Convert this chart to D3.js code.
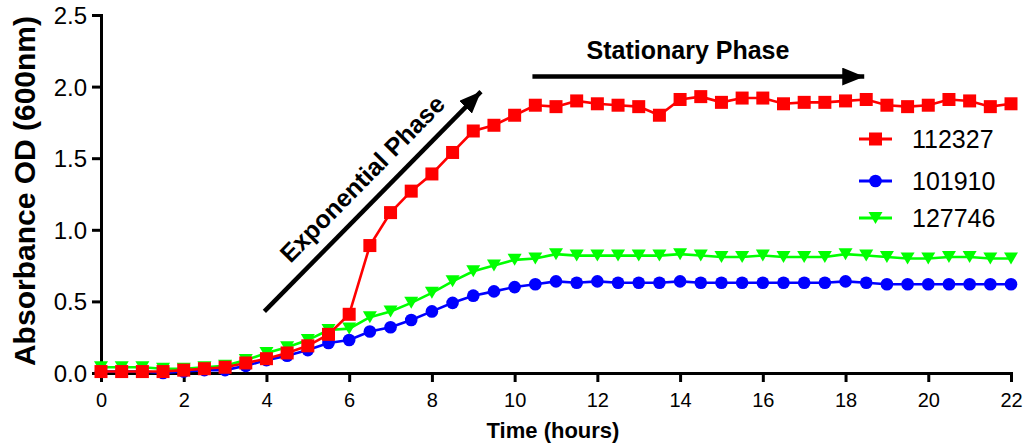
<!DOCTYPE html>
<html>
<head>
<meta charset="utf-8">
<script src="https://cdn.jsdelivr.net/npm/d3@7"></script>
<style>
  body { margin: 0; background: #fff; }
  svg { display: block; font-family: Arial, "Liberation Sans", sans-serif; }
</style>
</head>
<body>
<div id="root"></div>
<script>
// sampling times (hours), every half hour
const hours = d3.range(0, 22.01, 0.5);

const seriesNames = ["112327", "101910", "127746"];

const od112327 = [
  0.01, 0.01, 0.01, 0.01, 0.02, 0.03, 0.04, 0.07, 0.10, 0.14, 0.19, 0.27, 0.41,
  0.89, 1.12, 1.27, 1.39, 1.54, 1.69, 1.73, 1.80,
  1.87, 1.86, 1.90, 1.88, 1.87, 1.86, 1.80, 1.91, 1.93, 1.89, 1.92, 1.92,
  1.88, 1.89, 1.89, 1.90, 1.91, 1.87, 1.86, 1.87, 1.91, 1.90, 1.86, 1.88,
];

const od101910 = [
  0.01, 0.01, 0.01, 0.00, 0.01, 0.02, 0.02, 0.05, 0.09, 0.12, 0.16, 0.21, 0.23,
  0.29, 0.32, 0.37, 0.43, 0.49, 0.54, 0.57, 0.60,
  0.62, 0.64, 0.63, 0.64, 0.63, 0.63, 0.63, 0.64, 0.63, 0.63, 0.63, 0.63,
  0.63, 0.63, 0.63, 0.64, 0.63, 0.62, 0.62, 0.62, 0.62, 0.62, 0.62, 0.62,
];

const od127746 = [
  0.04, 0.04, 0.04, 0.03, 0.03, 0.04, 0.05, 0.09, 0.14, 0.18, 0.23, 0.30, 0.31,
  0.39, 0.43, 0.49, 0.56, 0.64, 0.71, 0.75, 0.79,
  0.80, 0.83, 0.82, 0.82, 0.82, 0.82, 0.82, 0.83, 0.82, 0.81, 0.81, 0.82,
  0.81, 0.81, 0.81, 0.83, 0.82, 0.81, 0.80, 0.80, 0.81, 0.81, 0.80, 0.80,
];

const xTicks = [0, 2, 4, 6, 8, 10, 12, 14, 16, 18, 20, 22];
const yTicks = [0, 0.5, 1.0, 1.5, 2.0, 2.5];

// annotation arrows in data units: [hours, OD]
const expArrow = [[3.95, 0.43], [9.22, 1.975]];
const statArrow = [[10.43, 2.07], [18.5, 2.07]];

growthCurve(window.d3);

function growthCurve(d3) {
  const width = 1027;
  const height = 447;

  const svg = d3.select("#root").append("svg")
    .attr("width", width)
    .attr("height", height);

  const x = d3.scaleLinear().domain([0, 22]).range([101, 1011]);
  const y = d3.scaleLinear().domain([0, 2.5]).range([373, 15]);

  // axes
  const xAxis = svg.append("g")
    .attr("transform", `translate(0, ${y(0)})`)
    .call(d3.axisBottom(x).tickValues(xTicks).tickSize(9).tickSizeOuter(0).tickFormat(d3.format("d")));

  const yAxis = svg.append("g")
    .attr("transform", `translate(${x(0)}, 0)`)
    .call(d3.axisLeft(y).tickValues(yTicks).tickSize(9).tickSizeOuter(0).tickFormat(d3.format(".1f")));

  [xAxis, yAxis].forEach(ax => {
    ax.select(".domain").attr("stroke", "#000").attr("stroke-width", 3).attr("stroke-linecap", "square");
    ax.selectAll(".tick line").attr("stroke", "#000").attr("stroke-width", 3);
    ax.selectAll(".tick text").attr("fill", "#000").attr("font-family", "Arial, 'Liberation Sans', sans-serif");
  });

  xAxis.selectAll(".tick text")
    .attr("font-size", 20)
    .attr("y", 20)
    .attr("dy", "0.71em");

  yAxis.selectAll(".tick text")
    .attr("font-size", 24)
    .attr("x", -14)
    .attr("dy", "0.35em");

  // axis titles
  svg.append("text")
    .attr("x", 553)
    .attr("y", 438)
    .attr("text-anchor", "middle")
    .attr("font-size", 22)
    .attr("font-weight", "bold")
    .text("Time (hours)");

  svg.append("text")
    .attr("transform", "translate(35, 191) rotate(-90)")
    .attr("text-anchor", "middle")
    .attr("font-size", 30)
    .attr("font-weight", "bold")
    .text("Absorbance OD (600nm)");

  // series
  const series = [
    { name: seriesNames[1], values: od101910, color: "#0000ff", shape: "circle" },
    { name: seriesNames[2], values: od127746, color: "#00ff00", shape: "triangle" },
    { name: seriesNames[0], values: od112327, color: "#ff0000", shape: "square" },
  ];

  const line = d3.line()
    .x(d => x(d[0]))
    .y(d => y(d[1]));

  function drawMarker(g, shape, color) {
    if (shape === "square") {
      g.append("rect").attr("x", -6.5).attr("y", -6.5).attr("width", 13).attr("height", 13).attr("fill", color);
    } else if (shape === "circle") {
      g.append("circle").attr("r", 6.3).attr("fill", color);
    } else {
      g.append("path").attr("d", "M-7,-6L7,-6L0,6Z").attr("fill", color);
    }
  }

  series.forEach(s => {
    const pts = hours.map((h, i) => [h, s.values[i]]);
    const g = svg.append("g");
    g.append("path")
      .datum(pts)
      .attr("d", line)
      .attr("fill", "none")
      .attr("stroke", s.color)
      .attr("stroke-width", 2.6);

    g.selectAll("g.pt")
      .data(pts)
      .join("g")
      .attr("class", "pt")
      .attr("transform", d => `translate(${x(d[0])}, ${y(d[1])})`)
      .each(function () { drawMarker(d3.select(this), s.shape, s.color); });
  });

  // legend
  const legendOrder = [
    { name: seriesNames[0], color: "#ff0000", shape: "square", dy: 139 },
    { name: seriesNames[1], color: "#0000ff", shape: "circle", dy: 181 },
    { name: seriesNames[2], color: "#00ff00", shape: "triangle", dy: 218 },
  ];

  const legend = svg.append("g");
  legendOrder.forEach(item => {
    const row = legend.append("g").attr("transform", `translate(859, ${item.dy})`);
    row.append("line")
      .attr("x1", 0).attr("x2", 33)
      .attr("stroke", item.color)
      .attr("stroke-width", 3);
    drawMarker(row.append("g").attr("transform", "translate(16.5, 0)"), item.shape, item.color);
    row.append("text")
      .attr("x", 53)
      .attr("dy", "0.36em")
      .attr("font-size", 25)
      .text(item.name);
  });

  // annotation arrows
  svg.append("defs").append("marker")
    .attr("id", "head")
    .attr("viewBox", "0 0 22 18")
    .attr("refX", 22)
    .attr("refY", 9)
    .attr("markerUnits", "userSpaceOnUse")
    .attr("markerWidth", 22)
    .attr("markerHeight", 18)
    .attr("orient", "auto")
    .append("path")
    .attr("d", "M0,0L22,9L0,18Z")
    .attr("fill", "#000");

  [expArrow, statArrow].forEach(a => {
    const [p0, p1] = a.map(p => [x(p[0]), y(p[1])]);
    const len = Math.hypot(p1[0] - p0[0], p1[1] - p0[1]);
    const ux = (p1[0] - p0[0]) / len;
    const uy = (p1[1] - p0[1]) / len;
    svg.append("line")
      .attr("x1", p0[0]).attr("y1", p0[1])
      .attr("x2", p1[0] - ux * 2).attr("y2", p1[1] - uy * 2)
      .attr("stroke", "#000")
      .attr("stroke-width", 4.5)
      .attr("marker-end", "url(#head)");
  });

  // annotation labels
  const e0 = [x(expArrow[0][0]), y(expArrow[0][1])];
  const e1 = [x(expArrow[1][0]), y(expArrow[1][1])];
  const angle = Math.atan2(e1[1] - e0[1], e1[0] - e0[0]) * 180 / Math.PI;
  svg.append("text")
    .attr("transform", `translate(${(e0[0] + e1[0]) / 2 - 5}, ${(e0[1] + e1[1]) / 2 - 16}) rotate(${angle})`)
    .attr("text-anchor", "middle")
    .attr("font-size", 25)
    .attr("font-weight", "bold")
    .text("Exponential Phase");

  svg.append("text")
    .attr("x", 688)
    .attr("y", 59)
    .attr("text-anchor", "middle")
    .attr("font-size", 25)
    .attr("font-weight", "bold")
    .text("Stationary Phase");
}
</script>
</body>
</html>
